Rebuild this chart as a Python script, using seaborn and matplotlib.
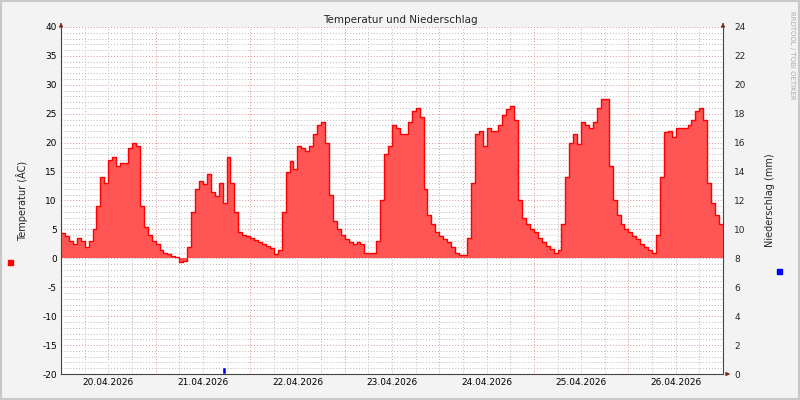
import numpy as np
import pandas as pd
import matplotlib
matplotlib.use("Agg")
import matplotlib.pyplot as plt
import seaborn as sns

day_labels = ["20.04.2026", "21.04.2026", "22.04.2026", "23.04.2026", "24.04.2026", "25.04.2026", "26.04.2026"]
temp_d1 = [4.3, 3.8, 3.0, 2.5, 3.6, 3.0, 2.0, 3.0, 5.0, 9.0, 14.0, 13.0, 17.0, 17.5, 16.0, 16.5, 16.5, 19.0, 20.0, 19.5, 9.0, 5.5, 4.0, 3.0]
temp_d2 = [2.5, 1.5, 1.0, 0.8, 0.4, 0.2, -0.6, -0.5, 2.0, 8.0, 12.0, 13.3, 12.8, 14.5, 11.4, 10.8, 13.0, 9.5, 17.5, 13.0, 8.0, 4.5, 4.0, 3.8]
temp_d3 = [3.5, 3.2, 2.8, 2.5, 2.2, 1.8, 0.8, 1.5, 8.0, 15.0, 16.8, 15.5, 19.5, 19.0, 18.5, 19.5, 21.5, 23.0, 23.5, 20.0, 11.0, 6.5, 5.0, 4.0]
temp_d4 = [3.3, 2.8, 2.4, 2.8, 2.5, 1.0, 1.0, 1.0, 3.0, 10.0, 18.0, 19.5, 23.0, 22.5, 21.5, 21.5, 23.5, 25.5, 26.0, 24.5, 12.0, 7.5, 6.0, 4.5]
temp_d5 = [3.8, 3.3, 2.8, 2.0, 1.0, 0.5, 0.5, 3.5, 13.0, 21.5, 22.0, 19.5, 22.5, 22.0, 22.0, 23.0, 24.8, 25.8, 26.3, 24.0, 10.0, 7.0, 6.0, 5.0]
temp_d6 = [4.5, 3.5, 2.8, 2.2, 1.6, 1.0, 1.5, 6.0, 14.0, 20.0, 21.5, 19.7, 23.5, 23.0, 22.5, 23.5, 26.0, 27.5, 27.5, 16.0, 10.0, 7.5, 6.0, 5.0]
temp_d7 = [4.5, 3.8, 3.3, 2.5, 2.0, 1.5, 1.0, 4.0, 14.0, 21.8, 22.0, 21.0, 22.5, 22.5, 22.6, 23.0, 24.0, 25.5, 26.0, 24.0, 13.0, 9.5, 7.5, 6.0]
rain_time_days = [1.72]
rain_mm = [0.5]

temps = temp_d1 + temp_d2 + temp_d3 + temp_d4 + temp_d5 + temp_d6 + temp_d7
df = pd.DataFrame({"t": np.arange(len(temps)) / 24.0, "temp": temps})
df_step = pd.concat([df, pd.DataFrame({"t": [7.0], "temp": [temps[-1]]})], ignore_index=True)

sns.set_style("white")
plt.rcParams['font.family'] = ['DejaVu Sans']
plt.rcParams['axes.unicode_minus'] = False
fig = plt.figure(figsize=(8, 4), dpi=100, facecolor="#F3F3F3")
fig.patches.append(plt.Rectangle((0, 0), 1, 1, fill=False, edgecolor="#C8C8C8", lw=3, transform=fig.transFigure, figure=fig))
ax = fig.add_axes([61/800, 26/400, 662/800, 347/400])
ax.set_facecolor("white")

for y in range(-20, 41):
    if y % 5 == 0:
        ax.axhline(y, color="#E09090", lw=0.7, ls=(0, (1, 2)), zorder=0)
    else:
        ax.axhline(y, color="#B8B8B8", lw=0.7, ls=(0, (1, 2)), zorder=0)
for k in range(29):
    x = k / 4
    if k % 4 == 0:
        ax.axvline(x, color="#E09090", lw=0.7, ls=(0, (1, 2)), zorder=0)
    else:
        ax.axvline(x, color="#B8B8B8", lw=0.7, ls=(0, (1, 2)), zorder=0)

ax.fill_between(df_step["t"], 0, df_step["temp"], step="post", color="#FF5555", lw=0, zorder=2)
sns.lineplot(data=df_step, x="t", y="temp", ax=ax, drawstyle="steps-post", color="#FF0000", lw=1.0, zorder=3)

ax.set_xlim(0, 7)
ax.set_ylim(-20, 40)
ax.set_yticks(range(-20, 41, 5))
ax.set_xticks([i + 0.5 for i in range(7)])
ax.set_xticklabels(day_labels)
ax.tick_params(axis="both", labelsize=6.5, length=0, pad=3, colors="#000000")
ax.set_xticks(range(8), minor=True)
ax.tick_params(axis="x", which="minor", length=3, color="#444444")
ax.set_xlabel("")
ax.set_ylabel("Temperatur (ÂC)", fontsize=7, labelpad=10)
for s in ["top", "right"]:
    ax.spines[s].set_visible(False)
for s in ["left", "bottom"]:
    ax.spines[s].set_color("#444444")
    ax.spines[s].set_linewidth(0.8)

ax2 = ax.twinx()
ax2.bar(rain_time_days, rain_mm, width=1/24, color="#0000FF", align="center", zorder=4)
ax2.set_ylim(0, 24)
ax2.set_yticks(range(0, 25, 2))
ax2.tick_params(axis="y", labelsize=6.5, length=0, pad=8)
ax2.set_ylabel("Niederschlag (mm)", fontsize=7, labelpad=14)
for s in ["top", "left", "bottom"]:
    ax2.spines[s].set_visible(False)
ax2.spines["right"].set_color("#444444")
ax2.spines["right"].set_linewidth(0.8)

fig.text(400/800, 1 - 20/400, "Temperatur und Niederschlag", ha="center", va="center", fontsize=7.5)
fig.text(792/800, 1 - 55/400, "RRDTOOL / TOBI OETIKER", rotation=270, ha="center", va="center", fontsize=5, color="#AAAAAA")
fig.patches.append(plt.Rectangle((8/800, 1 - 265/400), 5/800, 5/400, color="#FF0000", transform=fig.transFigure, figure=fig))
fig.patches.append(plt.Rectangle((777/800, 1 - 274/400), 5/800, 5/400, color="#0000FF", transform=fig.transFigure, figure=fig))
ax.annotate("", xy=(0, 1.02), xycoords="axes fraction", xytext=(0, 1.0), arrowprops=dict(arrowstyle="-|>", color="#7A1F1F", lw=0.6, mutation_scale=6))
ax.annotate("", xy=(1, 1.02), xycoords="axes fraction", xytext=(1, 1.0), arrowprops=dict(arrowstyle="-|>", color="#7A1F1F", lw=0.6, mutation_scale=6))
ax.annotate("", xy=(1.015, 0), xycoords="axes fraction", xytext=(1.0, 0), arrowprops=dict(arrowstyle="-|>", color="#7A1F1F", lw=0.6, mutation_scale=6))

fig.savefig("out.png", dpi=100, facecolor=fig.get_facecolor())
